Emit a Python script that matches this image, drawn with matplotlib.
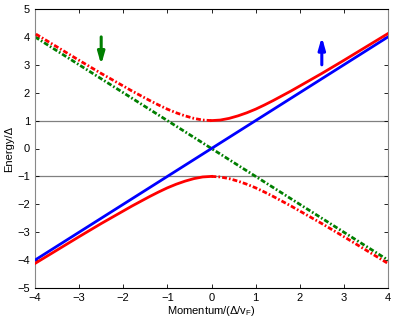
import matplotlib
matplotlib.use("Agg")
import matplotlib.pyplot as plt
import numpy as np

plt.rcParams['font.family'] = ['Liberation Sans', 'DejaVu Sans']
plt.rcParams['lines.scale_dashes'] = False

# Data
line_x = [-4, 4]
blue_y = [-4, 4]          # spin-up linear band
green_y = [4, -4]         # spin-down linear band
k_pos = [0.0, 0.2, 0.4, 0.6, 0.8, 1.0, 1.2, 1.4, 1.6, 1.8, 2.0, 2.5, 3.0, 3.5, 4.0]
e_pos = [1.00, 1.02, 1.08, 1.17, 1.28, 1.41, 1.56, 1.72, 1.89, 2.06, 2.24, 2.69, 3.16, 3.64, 4.12]
hlines_y = [1, -1]
arrow_x = [-2.5, 2.5]
arrow_y = [(4.0, 3.0), (3.0, 4.0)]
arrow_colors = ['#007f00', '#0000ff']
xticks = [-4, -3, -2, -1, 0, 1, 2, 3, 4]
yticks = [-5, -4, -3, -2, -1, 0, 1, 2, 3, 4, 5]

k_pos = np.array(k_pos)
e_pos = np.array(e_pos)

dashdot = (0, (3.5, 1.5, 1.2, 1.5))

fig = plt.figure(figsize=(3.95, 3.2), dpi=100)
ax = fig.add_axes([35/395, 32/320, 353/395, 279/320])

for yv in hlines_y:
    ax.axhline(yv, color='#808080', lw=0.9, zorder=1)

ax.plot(line_x, green_y, color='#007f00', lw=2, ls=dashdot, zorder=2)
ax.plot(line_x, blue_y, color='#0000ff', lw=2, ls='-', zorder=3)

# red gapped bands
ax.plot(k_pos, e_pos, color='#ff0000', lw=2, ls='-', zorder=4)
ax.plot(-k_pos, -e_pos, color='#ff0000', lw=2, ls='-', zorder=4)
ax.plot(-k_pos, e_pos, color='#ff0000', lw=2, ls=dashdot, zorder=4)
ax.plot(k_pos, -e_pos, color='#ff0000', lw=2, ls=dashdot, zorder=4)

for xa, (y0, y1), c in zip(arrow_x, arrow_y, arrow_colors):
    ax.annotate('', xy=(xa, y1), xytext=(xa, y0),
                arrowprops=dict(arrowstyle='-|>,head_length=0.7,head_width=0.2',
                                color=c, lw=2.2, shrinkA=0, shrinkB=0))

ax.set_xlim(-4, 4)
ax.set_ylim(-5, 5)
ax.set_xticks(xticks)
ax.set_yticks(yticks)
ax.tick_params(direction='in', top=True, right=True, labelsize=8, length=3, width=0.6)
for s in ['left', 'right']:
    ax.spines[s].set_color('#888888')
for s in ['top', 'bottom']:
    ax.spines[s].set_color('black')
for s in ax.spines.values():
    s.set_linewidth(0.8)

ax.set_xlabel('Momentum/(Δ/v$_\\mathregular{F}$)', fontsize=8, labelpad=1)
ax.set_ylabel('Energy/Δ', fontsize=8, labelpad=2)

fig.savefig('out.png', dpi=100)
